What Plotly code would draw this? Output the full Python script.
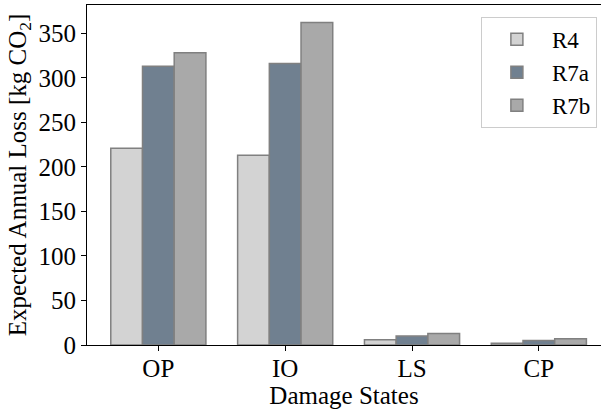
import plotly.graph_objects as go

categories = ["OP", "IO", "LS", "CP"]
series_names = ["R4", "R7a", "R7b"]
r4_values = [221, 213, 6, 2]
r7a_values = [313, 316, 10, 5]
r7b_values = [328, 362, 13, 7]
y_ticks = [0, 50, 100, 150, 200, 250, 300, 350]

colors = ["#d3d3d3", "#708090", "#a9a9a9"]
FONT = "Liberation Serif, Times New Roman, serif"
FS = 25

fig = go.Figure()
for name, vals, col in zip(series_names, [r4_values, r7a_values, r7b_values], colors):
    fig.add_trace(go.Bar(
        x=categories, y=vals, name=name,
        marker=dict(color=col, line=dict(color="#808080", width=1.5)),
    ))

fig.update_layout(
    width=601, height=410,
    margin=dict(l=87, r=0, t=5, b=65),
    paper_bgcolor="white", plot_bgcolor="white",
    barmode="group", bargap=0.25, bargroupgap=0,
    font=dict(family=FONT, size=FS, color="black"),
    showlegend=True,
    legend=dict(
        x=0.992, xanchor="right", y=0.965, yanchor="top",
        bordercolor="#cccccc", borderwidth=1, bgcolor="white",
        font=dict(family=FONT, size=23), itemwidth=60,
    ),
    xaxis=dict(
        type="category", range=[-0.5625, 3.49],
        showline=True, linecolor="black", linewidth=1.2, mirror=True,
        ticks="outside", ticklen=5, tickcolor="black",
        ticklabelstandoff=-4,
        showgrid=False, zeroline=False,
        title=dict(text="Damage States", font=dict(family=FONT, size=FS), standoff=2),
        tickfont=dict(family=FONT, size=FS),
    ),
    yaxis=dict(
        range=[0, 381.7],
        tickvals=y_ticks,
        showline=True, linecolor="black", linewidth=1.2,
        ticks="outside", ticklen=5, tickcolor="black",
        showgrid=False, zeroline=False,
        title=dict(text="Expected Annual Loss [kg CO<sub>2</sub>]", font=dict(family=FONT, size=FS), standoff=4),
        tickfont=dict(family=FONT, size=FS),
    ),
)

fig.write_html("out.html")
